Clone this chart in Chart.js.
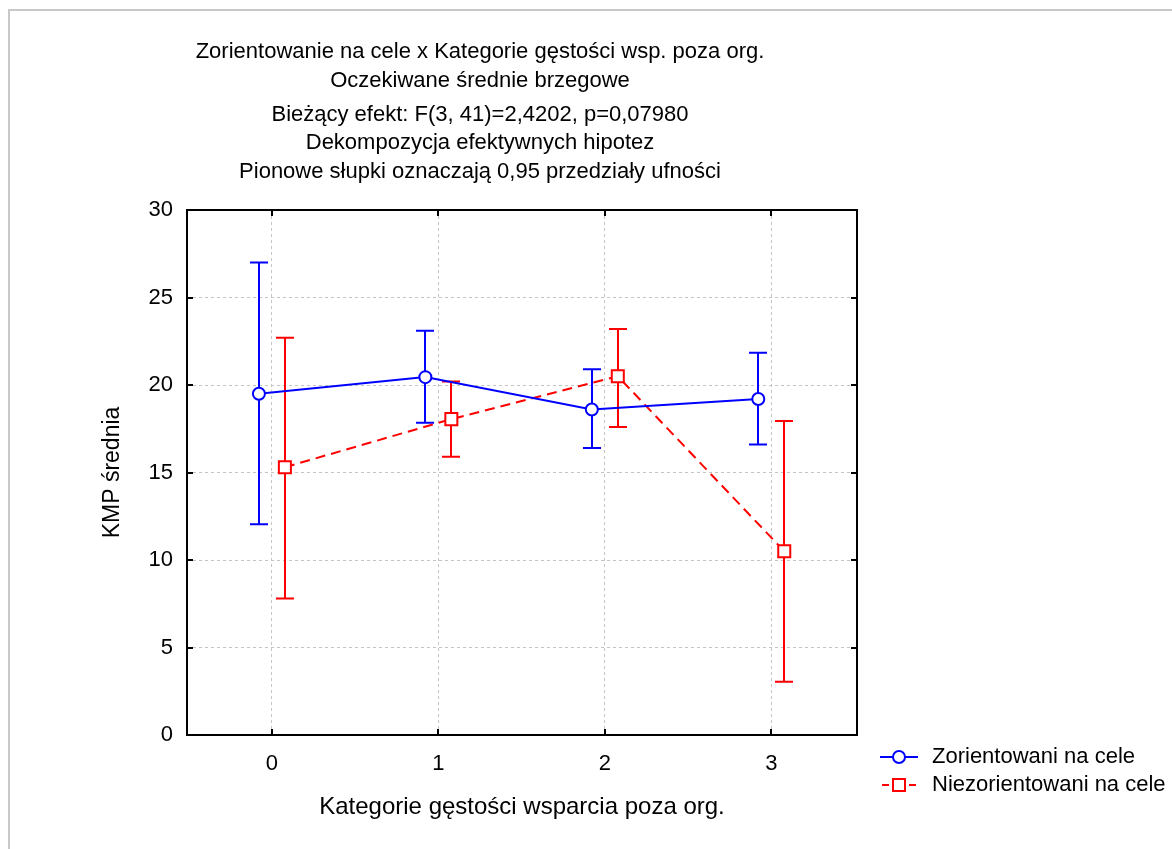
<!DOCTYPE html>
<html>
<head>
<meta charset="utf-8">
<script src="https://cdn.jsdelivr.net/npm/chart.js@4/dist/chart.umd.min.js"></script>
<style>
  html, body { margin: 0; padding: 0; background: #ffffff; overflow: hidden; }
  canvas { display: block; }
</style>
</head>
<body>
<canvas id="chart" width="1172" height="849"></canvas>
<script>
// Categories of support density outside the organisation
const categories = [0, 1, 2, 3];
const xTickLabels = ['0', '1', '2', '3'];
const yTickValues = [0, 5, 10, 15, 20, 25, 30];

// Goal-oriented group: expected marginal means and 0.95 confidence limits
const zorMean = [19.5, 20.45, 18.6, 19.2];
const zorLow  = [12.05, 17.85, 16.4, 16.6];
const zorHigh = [27.0, 23.1, 20.9, 21.85];

// Non-goal-oriented group
const niezMean = [15.3, 18.05, 20.5, 10.5];
const niezLow  = [7.8, 15.9, 17.6, 3.05];
const niezHigh = [22.7, 20.2, 23.2, 17.95];

const seriesNames = ['Zorientowani na cele', 'Niezorientowani na cele'];

const titleLines = [
  'Zorientowanie na cele x Kategorie gęstości wsp. poza org.',
  'Oczekiwane średnie brzegowe',
  'Bieżący efekt: F(3, 41)=2,4202, p=0,07980',
  'Dekompozycja efektywnych hipotez',
  'Pionowe słupki oznaczają 0,95 przedziały ufności'
];
const xTitle = 'Kategorie gęstości wsparcia poza org.';
const yTitle = 'KMP średnia';

const FONT = "'Liberation Sans', Arial, Helvetica, sans-serif";
const BLUE = '#0000ff';
const RED = '#ff0000';
const DODGE = 0.078;          // horizontal shift of the two groups around each category
const RED_DASH = [10, 6];

// outer grey frame
const framePlugin = {
  id: 'frame',
  beforeDraw(chart) {
    const ctx = chart.ctx;
    ctx.save();
    ctx.strokeStyle = '#c8c8c8';
    ctx.lineWidth = 2;
    ctx.beginPath();
    ctx.moveTo(9, chart.height);
    ctx.lineTo(9, 10);
    ctx.lineTo(chart.width, 10);
    ctx.stroke();
    ctx.restore();
  }
};

// vertical confidence-interval whiskers with caps
const errorBarPlugin = {
  id: 'errorBars',
  beforeDatasetsDraw(chart) {
    const ctx = chart.ctx;
    const xs = chart.scales.x, ys = chart.scales.y;
    chart.data.datasets.forEach(ds => {
      ctx.save();
      ctx.strokeStyle = ds.borderColor;
      ctx.lineWidth = 2;
      ctx.setLineDash([]);
      ds.data.forEach((pt, i) => {
        const px = Math.round(xs.getPixelForValue(pt.x));
        const yl = ys.getPixelForValue(ds.errLow[i]);
        const yh = ys.getPixelForValue(ds.errHigh[i]);
        ctx.beginPath();
        ctx.moveTo(px, yl); ctx.lineTo(px, yh);
        ctx.moveTo(px - 9, yl); ctx.lineTo(px + 9, yl);
        ctx.moveTo(px - 9, yh); ctx.lineTo(px + 9, yh);
        ctx.stroke();
      });
      ctx.restore();
    });
  }
};

// closed plot box with inward tick marks on every side
const boxPlugin = {
  id: 'box',
  afterDraw(chart) {
    const ctx = chart.ctx;
    const a = chart.chartArea;
    const xs = chart.scales.x, ys = chart.scales.y;
    ctx.save();
    ctx.strokeStyle = '#000000';
    ctx.lineWidth = 2;
    ctx.setLineDash([]);
    ctx.strokeRect(a.left, a.top, a.right - a.left, a.bottom - a.top);
    ctx.beginPath();
    xs.ticks.forEach(t => {
      const px = Math.round(xs.getPixelForValue(t.value));
      ctx.moveTo(px, a.bottom); ctx.lineTo(px, a.bottom - 6);
      ctx.moveTo(px, a.top); ctx.lineTo(px, a.top + 6);
    });
    ys.ticks.forEach(t => {
      const py = Math.round(ys.getPixelForValue(t.value));
      ctx.moveTo(a.left, py); ctx.lineTo(a.left + 6, py);
      ctx.moveTo(a.right, py); ctx.lineTo(a.right - 6, py);
    });
    ctx.stroke();
    ctx.restore();
  }
};

// heading block above the plot
const headingPlugin = {
  id: 'heading',
  afterDraw(chart) {
    const ctx = chart.ctx;
    const rows = [52, 81, 115, 143, 172];
    ctx.save();
    ctx.fillStyle = '#000000';
    ctx.font = '22px ' + FONT;
    ctx.textAlign = 'center';
    ctx.textBaseline = 'middle';
    titleLines.forEach((line, i) => ctx.fillText(line, 480, rows[i]));
    ctx.restore();
  }
};

// legend with line-and-marker samples
const legendPlugin = {
  id: 'sampleLegend',
  afterDraw(chart) {
    const ctx = chart.ctx;
    const x0 = 880, rows = [757, 785];
    ctx.save();
    chart.data.datasets.forEach((ds, i) => {
      const y = rows[i];
      ctx.strokeStyle = ds.borderColor;
      ctx.lineWidth = 2;
      ctx.beginPath();
      if (ds.borderDash && ds.borderDash.length) {
        ctx.moveTo(x0 + 2, y); ctx.lineTo(x0 + 9, y);
        ctx.moveTo(x0 + 29, y); ctx.lineTo(x0 + 36, y);
      } else {
        ctx.moveTo(x0, y); ctx.lineTo(x0 + 38, y);
      }
      ctx.stroke();
      ctx.fillStyle = '#ffffff';
      ctx.beginPath();
      if (ds.pointStyle === 'rect') {
        ctx.rect(x0 + 13, y - 6, 12, 12);
      } else {
        ctx.arc(x0 + 19, y, 6, 0, Math.PI * 2);
      }
      ctx.fill();
      ctx.stroke();
      ctx.fillStyle = '#000000';
      ctx.font = '22px ' + FONT;
      ctx.textAlign = 'left';
      ctx.textBaseline = 'middle';
      ctx.fillText(ds.label, x0 + 52, y);
    });
    ctx.restore();
  }
};

const gridCommon = {
  color: '#c4c4c4',
  lineWidth: 1,
  drawTicks: false
};

new Chart(document.getElementById('chart'), {
  type: 'line',
  data: {
    datasets: [
      {
        label: seriesNames[0],
        data: categories.map((c, i) => ({ x: c - DODGE, y: zorMean[i] })),
        errLow: zorLow,
        errHigh: zorHigh,
        borderColor: BLUE,
        backgroundColor: '#ffffff',
        borderWidth: 2,
        pointStyle: 'circle',
        pointRadius: 6,
        pointBorderWidth: 2,
        pointBackgroundColor: '#ffffff',
        pointBorderColor: BLUE,
        tension: 0
      },
      {
        label: seriesNames[1],
        data: categories.map((c, i) => ({ x: c + DODGE, y: niezMean[i] })),
        errLow: niezLow,
        errHigh: niezHigh,
        borderColor: RED,
        backgroundColor: '#ffffff',
        borderWidth: 2,
        borderDash: RED_DASH,
        pointStyle: 'rect',
        pointRadius: 8.5,
        pointBorderWidth: 2,
        pointBackgroundColor: '#ffffff',
        pointBorderColor: RED,
        tension: 0
      }
    ]
  },
  options: {
    responsive: false,
    animation: false,
    events: [],
    layout: { padding: { left: 0, right: 315, top: 210, bottom: 0 } },
    plugins: {
      legend: { display: false },
      title: { display: false },
      tooltip: { enabled: false }
    },
    scales: {
      x: {
        type: 'linear',
        position: 'bottom',
        min: -0.51,
        max: 3.515,
        afterBuildTicks: s => { s.ticks = categories.map(v => ({ value: v })); },
        afterFit: s => { s.height = 114; },
        ticks: {
          color: '#000000',
          font: { family: FONT, size: 22 },
          padding: 16,
          maxRotation: 0,
          callback: (v) => xTickLabels[categories.indexOf(v)]
        },
        grid: gridCommon,
        border: { display: false, dash: [3, 3] },
        title: {
          display: true,
          text: xTitle,
          color: '#000000',
          font: { family: FONT, size: 24 },
          padding: { top: 0, bottom: 27 }
        }
      },
      y: {
        type: 'linear',
        position: 'left',
        min: 0,
        max: 30,
        afterBuildTicks: s => { s.ticks = yTickValues.map(v => ({ value: v })); },
        afterFit: s => { s.width = 187; },
        ticks: {
          color: '#000000',
          font: { family: FONT, size: 22 },
          padding: 14
        },
        grid: gridCommon,
        border: { display: false, dash: [3, 3] },
        title: {
          display: true,
          text: yTitle,
          color: '#000000',
          font: { family: FONT, size: 23 },
          padding: { top: 99, bottom: 0 }
        }
      }
    }
  },
  plugins: [framePlugin, errorBarPlugin, boxPlugin, headingPlugin, legendPlugin]
});
</script>
</body>
</html>
